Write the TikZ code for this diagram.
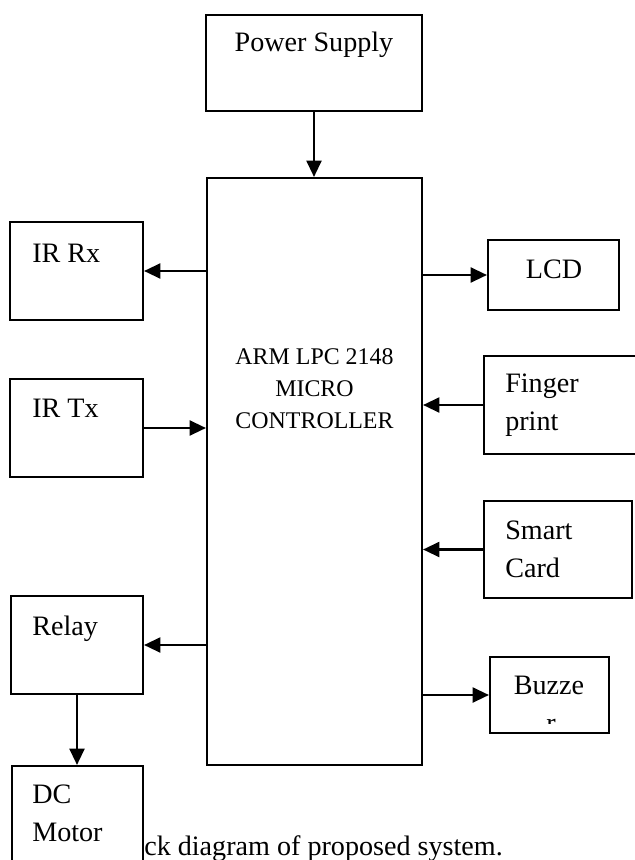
\documentclass[tikz,border=0pt]{standalone}
\usepackage{fontspec}
\setmainfont{Liberation Serif}
\usetikzlibrary{arrows.meta,fit}

\begin{document}
\begin{tikzpicture}[x=0.025cm,y=-0.025cm,
    blk/.style={draw, line width=1.4pt, inner sep=0pt},
    lbl/.style={inner sep=0pt, font=\fontsize{20}{27}\selectfont},
    arr/.style={line width=2pt, -{Triangle[length=0.41cm,width=0.37cm]}}]
    \useasboundingbox (0,0) rectangle (634,860);

    % Blocks
    \node[blk, fit={(206,15) (422,111)}] (psu) {};
    \node[blk, fit={(207,178) (422,765)}] (main) {};
    \node[blk, fit={(10,222) (143,320)}] (irrx) {};
    \node[blk, fit={(10,379) (143,477)}] (irtx) {};
    \node[blk, fit={(11,596) (143,694)}] (relay) {};
    \node[blk, fit={(12,766) (143,866)}] (dcm) {};
    \node[blk, fit={(488,240) (619,310)}] (lcd) {};
    \node[blk, fit={(484,356) (640,454)}] (finger) {};
    \node[blk, fit={(484,501) (632,598)}] (smart) {};
    \node[blk, fit={(490,657) (609,733)}] (buzz) {};

    % Texts
    \node[lbl, anchor=base] (psulbl) at (314,52) {Power Supply};
    \node[inner sep=0pt, align=center, font=\fontsize{17}{22.8}\selectfont] (mainlbl) at (314.5,389) {ARM LPC 2148\\MICRO\\CONTROLLER};
    \node[lbl, anchor=base west] (irrxlbl) at (32,262) {IR Rx};
    \node[lbl, anchor=base west] (irtxlbl) at (32,417) {IR Tx};
    \node[lbl, anchor=base west] (relaylbl) at (32,635) {Relay};
    \node[lbl, align=left, anchor=west] (dcmlbl) at (32,813.5) {DC\\Motor};
    \node[lbl, anchor=base] (lcdlbl) at (554,278) {LCD};
    \node[lbl, align=left, anchor=west] (fingerlbl) at (505,405) {Finger\\print};
    \node[lbl, align=left, anchor=west] (smartlbl) at (505,549.4) {Smart\\Card};
    \node[lbl, anchor=base] (buzzlbl) at (549,694) {Buzze};
    \begin{scope}
        \clip (490,657) rectangle (609,723);
        \node[lbl, anchor=base] (buzzrest) at (551,732) {r};
    \end{scope}
    \node[lbl, anchor=base west] (caption) at (144,855) {ck diagram of proposed system.};

    % Connections
    \draw[arr] (psu.south) -- (psu.south |- main.north);
    \draw[arr] (main.west |- irrx.east) -- (irrx.east);
    \draw[arr] (irtx.east) -- (main.west |- irtx.east);
    \draw[arr] (main.west |- relay.east) -- (relay.east);
    \draw[arr] (relay.south) -- (relay.south |- dcm.north);
    \draw[arr] (main.east |- lcd.west) -- (lcd.west);
    \draw[arr] (finger.west) -- (main.east |- finger.west);
    \draw[arr] (smart.west) -- (main.east |- smart.west);
    \draw[arr] (main.east |- buzz.west) -- (buzz.west);
\end{tikzpicture}
\end{document}
